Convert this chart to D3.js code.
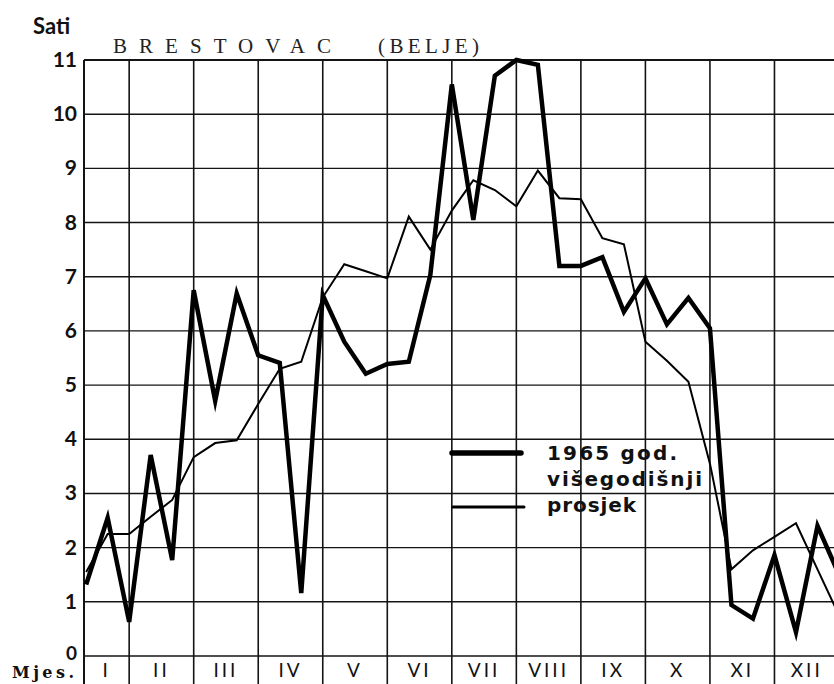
<!DOCTYPE html>
<html>
<head>
<meta charset="utf-8">
<script src="https://cdn.jsdelivr.net/npm/d3@7"></script>
<style>
  html, body { margin: 0; padding: 0; background: #fff; }
  svg { display: block; }
</style>
</head>
<body>
<svg id="chart" width="834" height="684"></svg>
<script>
// ---- data ----
const months = ["I","II","III","IV","V","VI","VII","VIII","IX","X","XI","XII"];
const yTicks = [0,1,2,3,4,5,6,7,8,9,10,11];
// sunshine hours per day, per ten-day period (36 decades)
const sun1965 = [1.32, 2.55, 0.63, 3.71, 1.77, 6.75, 4.71, 6.69, 5.55, 5.41, 1.16, 6.66,
                 5.80, 5.21, 5.39, 5.43, 7.03, 10.55, 8.05, 10.71, 11.0, 10.91, 7.20, 7.20,
                 7.36, 6.35, 6.97, 6.12, 6.61, 6.05, 0.94, 0.69, 1.86, 0.44, 2.40, 1.5];
const sunAvg  = [1.55, 2.25, 2.25, 2.57, 2.88, 3.67, 3.93, 3.98, 4.65, 5.30, 5.43, 6.62,
                 7.23, 7.10, 6.97, 8.11, 7.50, 8.22, 8.78, 8.60, 8.30, 8.96, 8.45, 8.43,
                 7.71, 7.60, 5.80, 5.45, 5.06, 3.55, 1.60, 1.95, 2.20, 2.45, 1.60, 0.75];
const legendLabels = ["1965 god.", "višegodišnji", "prosjek"];
const titleMain = "BRESTOVAC";
const titleSub = "(BELJE)";
const yTitle = "Sati";
const xTitle = "Mjes.";

// ---- layout ----
const svg = d3.select("#chart");
const W = 834, H = 684;
const x = d3.scaleLinear().domain([0.9, 36]).range([84, 839]);
const y = d3.scaleLinear().domain([0, 11]).range([656, 60]);
const sans = "Lato, 'Open Sans', 'DejaVu Sans', sans-serif";
const legendFont = "'DejaVu Sans', Lato, sans-serif";
const serif = "'Liberation Serif', 'DejaVu Serif', serif";
const slab = "'DejaVu Serif', 'Liberation Serif', serif";

const grid = svg.append("g").attr("stroke", "#141414");
grid.selectAll("line.h").data(yTicks).join("line")
  .attr("x1", x(0.9)).attr("x2", W)
  .attr("y1", d => y(d)).attr("y2", d => y(d))
  .attr("stroke-width", d => d === 11 ? 2 : 1.4);
const bounds = [0.9].concat(d3.range(1, 12).map(m => m * 3));
grid.selectAll("line.v").data(bounds).join("line")
  .attr("x1", d => x(d)).attr("x2", d => x(d))
  .attr("y1", y(11)).attr("y2", H)
  .attr("stroke-width", d => d === 0.9 ? 2 : 1.6);

// y labels
svg.append("g").selectAll("text").data(yTicks).join("text")
  .attr("x", 77).attr("y", d => y(d) + (d === 0 ? 4 : 7))
  .attr("text-anchor", "end")
  .attr("font-family", sans).attr("font-weight", 700).attr("font-size", d => d === 0 ? 19 : 21)
  .attr("fill", "#111")
  .text(d => String(d));

svg.append("text").attr("x", 33).attr("y", 34)
  .attr("font-family", sans).attr("font-weight", 700).attr("font-size", 22)
  .attr("fill", "#111").text(yTitle);

// month labels
svg.append("g").selectAll("text").data(months).join("text")
  .attr("x", (d, i) => (x(i === 0 ? 0.9 : i * 3) + x((i + 1) * 3)) / 2)
  .attr("y", 677)
  .attr("text-anchor", "middle")
  .attr("font-family", sans).attr("font-size", 19).attr("letter-spacing", 3)
  .attr("fill", "#111")
  .text(d => d);

svg.append("text").attr("x", 12).attr("y", 678)
  .attr("font-family", slab).attr("font-weight", 700).attr("font-size", 16)
  .attr("textLength", 62).attr("lengthAdjust", "spacing")
  .attr("fill", "#111").text(xTitle);

// title
svg.append("text").attr("x", 113).attr("y", 53)
  .attr("font-family", serif).attr("font-size", 21)
  .attr("textLength", 218).attr("lengthAdjust", "spacing")
  .attr("fill", "#222").text(titleMain);
svg.append("text").attr("x", 378).attr("y", 53)
  .attr("font-family", serif).attr("font-size", 21)
  .attr("textLength", 101).attr("lengthAdjust", "spacing")
  .attr("fill", "#222").text(titleSub);

// lines
const line = d3.line().x((d, i) => x(i + 1)).y(d => y(d));
svg.append("path").datum(sunAvg)
  .attr("d", line).attr("fill", "none")
  .attr("stroke", "#000").attr("stroke-width", 2)
  .attr("stroke-linejoin", "miter");
svg.append("path").datum(sun1965)
  .attr("d", line).attr("fill", "none")
  .attr("stroke", "#000").attr("stroke-width", 4.5)
  .attr("stroke-linejoin", "miter").attr("stroke-miterlimit", 6);

// legend
svg.append("line").attr("x1", 452).attr("x2", 521).attr("y1", 453).attr("y2", 453)
  .attr("stroke", "#000").attr("stroke-width", 5.5).attr("stroke-linecap", "round");
svg.append("line").attr("x1", 453).attr("x2", 524).attr("y1", 507).attr("y2", 507)
  .attr("stroke", "#000").attr("stroke-width", 3).attr("stroke-linecap", "round");
const legY = [460, 486, 512];
const legW = [130, 155, 89];
svg.append("g").selectAll("text").data(legendLabels).join("text")
  .attr("x", 547).attr("y", (d, i) => legY[i])
  .attr("font-family", legendFont).attr("font-weight", 700).attr("font-size", 20)
  .attr("textLength", (d, i) => legW[i]).attr("lengthAdjust", "spacing")
  .attr("fill", "#111")
  .text(d => d);
</script>
</body>
</html>
